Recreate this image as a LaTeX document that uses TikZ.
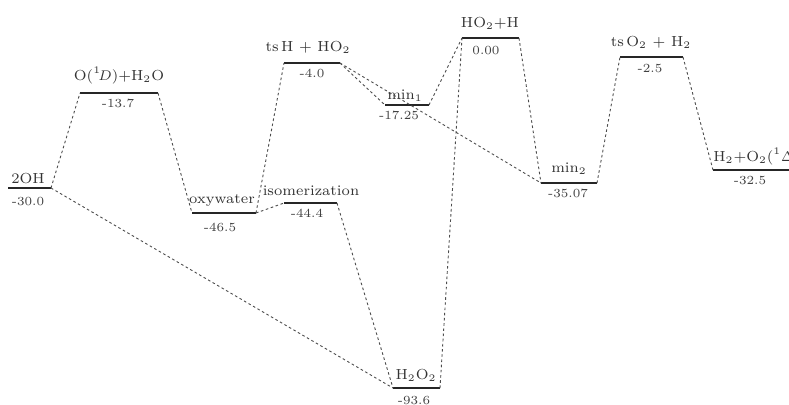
\documentclass[tikz,border=0pt]{standalone}
\usepackage{tikz}
\begin{document}
\begin{tikzpicture}[x=0.5pt,y=-0.5pt,
  level/.style={line width=1pt,black!85},
  conn/.style={line width=0.45pt,black!70,dash pattern=on 1.3pt off 1.3pt},
  lab/.style={anchor=base,inner sep=0pt,font=\fontsize{7.3}{8}\selectfont,text=black!80},
  val/.style={anchor=center,inner sep=0pt,font=\fontsize{6.2}{7}\selectfont,text=black!75}]
\useasboundingbox (0,0) rectangle (789,404);

% energy levels: left and right ends
\coordinate (ohL)   at (8,188);   \coordinate (ohR)   at (51,188);
\coordinate (odL)   at (80,93);   \coordinate (odR)   at (158,93);
\coordinate (oxL)   at (192,213); \coordinate (oxR)   at (256,213);
\coordinate (isL)   at (284,203); \coordinate (isR)   at (337,203);
\coordinate (tsaL)  at (284,63);  \coordinate (tsaR)  at (340,63);
\coordinate (maL)   at (385,105); \coordinate (maR)   at (429,105);
\coordinate (hoL)   at (462,38);  \coordinate (hoR)   at (519,38);
\coordinate (hhL)   at (393,388); \coordinate (hhR)   at (440,388);
\coordinate (mbL)   at (541,183); \coordinate (mbR)   at (597,183);
\coordinate (tsbL)  at (620,57);  \coordinate (tsbR)  at (683,57);
\coordinate (pdL)   at (713,170); \coordinate (pdR)   at (800,170);

\foreach \a in {oh,od,ox,is,tsa,ma,ho,hh,mb,tsb,pd}
  \draw[level] (\a L) -- (\a R);

% species names
\node[lab] (ohT)  at (28,183)  {2OH};
\node[lab] (odT)  at (119,80)  {O($^1\!D$)+H$_2$O};
\node[lab] (oxT)  at (222,203) {oxywater};
\node[lab] (isT)  at (311,195) {isomerization};
\node[lab] (tsaT) at (308,51)  {ts\,H + HO$_2$};
\node[lab] (maT)  at (405,99)  {min$_1$};
\node[lab] (hoT)  at (490,27)  {HO$_2$+H};
\node[lab] (hhT)  at (416,379) {H$_2$O$_2$};
\node[lab] (mbT)  at (569,172) {min$_2$};
\node[lab] (tsbT) at (651,46)  {ts\,O$_2$ + H$_2$};
\node[lab,anchor=base west] (pdT) at (713,161) {H$_2$+O$_2$($^1\Delta$)};

% relative energies
\node[val] (ohV)  at (28,201)  {-30.0};
\node[val] (odV)  at (118,103) {-13.7};
\node[val] (oxV)  at (220,227) {-46.5};
\node[val] (isV)  at (307,213) {-44.4};
\node[val] (tsaV) at (312,73)  {-4.0};
\node[val] (maV)  at (399,115) {-17.25};
\node[val] (hoV)  at (486,50)  {0.00};
\node[val] (hhV)  at (414,400) {-93.6};
\node[val] (mbV)  at (568,193) {-35.07};
\node[val] (tsbV) at (650,68)  {-2.5};
\node[val] (pdV)  at (750,180) {-32.5};

% reaction paths
\draw[conn] (ohR) -- (odL);
\draw[conn] (ohR) -- (hhL);
\draw[conn] (odR) -- (oxL);
\draw[conn] (oxR) -- (isL);
\draw[conn] (oxR) -- (tsaL);
\draw[conn] (isR) -- (hhL);
\draw[conn] (hhR) -- (hoL);
\draw[conn] (tsaR) -- (maL);
\draw[conn] (tsaR) -- (mbL);
\draw[conn] (maR) -- (hoL);
\draw[conn] (hoR) -- (mbL);
\draw[conn] (mbR) -- (tsbL);
\draw[conn] (tsbR) -- (pdL);
\end{tikzpicture}
\end{document}
